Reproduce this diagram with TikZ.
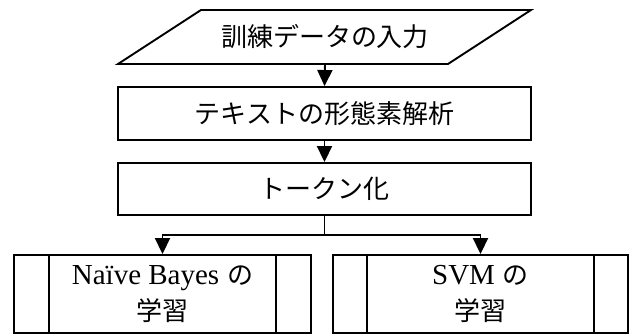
\documentclass[tikz,border=0pt]{standalone}
\usepackage{fontspec}
\newfontfamily\jp{Noto Sans CJK JP}
\newfontfamily\lat{Liberation Serif}
\usetikzlibrary{arrows.meta}
\begin{document}
\begin{tikzpicture}[x=1pt,y=-1pt,
  lw/.style={line width=1.9pt},
  txt/.style={font=\fontsize{26}{36}\selectfont},
  box/.style={lw, draw, txt, minimum width=413pt, minimum height=53pt, inner sep=0pt},
  sub/.style={lw, draw, txt, minimum height=78pt, inner sep=0pt, align=center},
  arr/.style={lw, -{Triangle[length=16pt,width=15pt]}},
]
\useasboundingbox (0,0) rectangle (633,336);
% input parallelogram
\draw[lw, line join=miter] (201,10) -- (531,10) -- (448,64) -- (118,64) -- cycle;
\node[txt, minimum width=300pt, minimum height=54pt, inner sep=0pt] (inp) at (325,37) {\jp 訓練データの入力};
% process boxes
\node[box] (morph) at (324.5,113.5) {\jp テキストの形態素解析};
\node[box, minimum height=52pt] (tok) at (324.5,189) {\jp トークン化};
% predefined process boxes
\node[sub, minimum width=297pt] (nb) at (162.5,294) {{\lat\fontsize{29}{36}\selectfont Naïve Bayes} {\jp の}\\{\jp 学習}};
\node[sub, minimum width=295pt] (svm) at (480.5,294) {{\lat\fontsize{29}{36}\selectfont SVM} {\jp の}\\{\jp 学習}};
\draw[lw] ([xshift=36pt]nb.north west) -- ([xshift=36pt]nb.south west);
\draw[lw] ([xshift=-36pt]nb.north east) -- ([xshift=-36pt]nb.south east);
\draw[lw] ([xshift=35pt]svm.north west) -- ([xshift=35pt]svm.south west);
\draw[lw] ([xshift=-35pt]svm.north east) -- ([xshift=-35pt]svm.south east);
% connectors
\draw[arr] (inp.south) -- (morph.north);
\draw[arr] (morph.south) -- (tok.north);
\coordinate (branch) at (324.5,235);
\draw[lw] (tok.south) -- (branch);
\draw[arr] (branch) -| (nb.north);
\draw[arr] (branch) -| (svm.north);
\end{tikzpicture}
\end{document}
